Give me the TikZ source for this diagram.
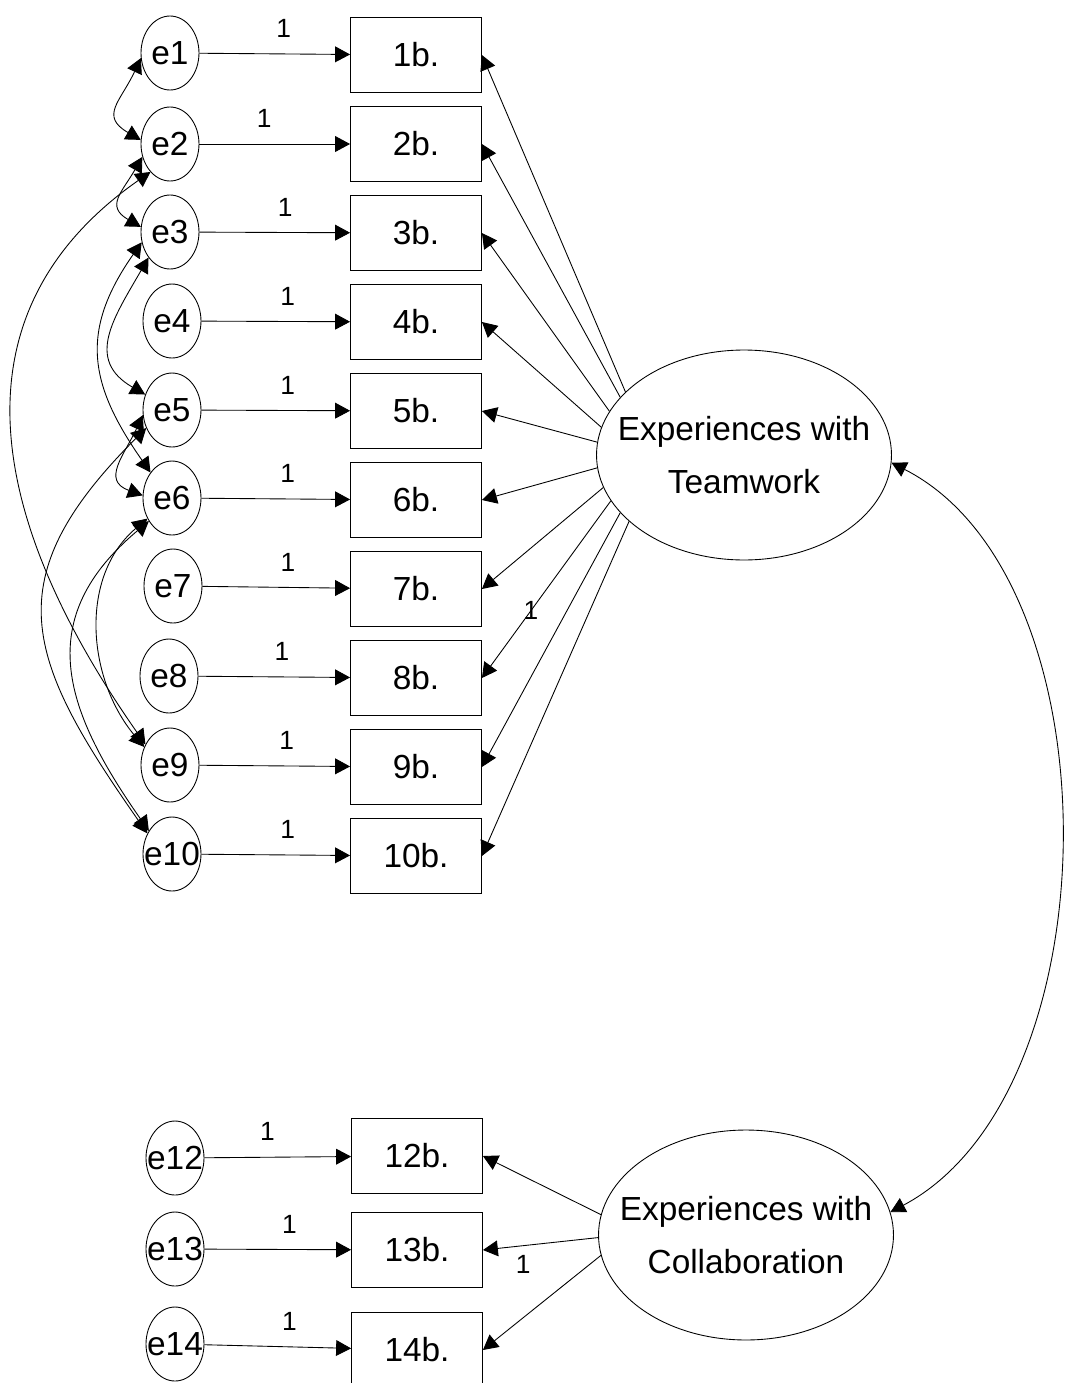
\documentclass[tikz,border=0pt]{standalone}
\usepackage{fontspec}
\setmainfont{Liberation Sans}
\usetikzlibrary{shapes.geometric,arrows.meta}

\tikzset{
  err/.style={ellipse, draw, line width=0.5pt, minimum width=1.16cm, minimum height=1.48cm, inner sep=0pt},
  every label/.style={font=\fontsize{19}{22}\selectfont},
  obs/.style={rectangle, draw, line width=0.5pt, minimum width=2.62cm, minimum height=1.5cm, font=\fontsize{19}{22}\selectfont},
  lat/.style={ellipse, draw, line width=0.5pt, minimum width=5.9cm, minimum height=4.2cm, inner xsep=-14pt, inner ysep=0pt, align=center, font=\fontsize{19}{30}\selectfont},
  reg/.style={-{Triangle[length=8.5pt,width=9pt]}, line width=0.5pt},
  cov/.style={{Triangle[length=8.5pt,width=9pt]}-{Triangle[length=8.5pt,width=9pt]}, line width=0.5pt},
  wt/.style={font=\fontsize{15}{17}\selectfont, inner sep=2pt}
}

\begin{document}
\begin{tikzpicture}[x=0.02cm,y=-0.02cm]
\useasboundingbox (0,0) rectangle (1068,1383);
% error terms
\node[err,label=center:e1] (e1) at (170,53) {};
\node[err,label=center:e2] (e2) at (170,144) {};
\node[err,label=center:e3] (e3) at (170,232) {};
\node[err,label=center:e4] (e4) at (172,321) {};
\node[err,label=center:e5] (e5) at (172,410) {};
\node[err,label=center:e6] (e6) at (172,498) {};
\node[err,label=center:e7] (e7) at (173,586) {};
\node[err,label=center:e8] (e8) at (169,676) {};
\node[err,label=center:e9] (e9) at (170,765) {};
\node[err,label=center:e10] (e10) at (172,854) {};
\node[err,label=center:e12] (e12) at (175,1158) {};
\node[err,label=center:e13] (e13) at (175,1249) {};
\node[err,label=center:e14] (e14) at (175,1344) {};
% items
\node[obs] (b1) at (416,55) {1b.};
\node[obs] (b2) at (416,144) {2b.};
\node[obs] (b3) at (416,233) {3b.};
\node[obs] (b4) at (416,322) {4b.};
\node[obs] (b5) at (416,411) {5b.};
\node[obs] (b6) at (416,500) {6b.};
\node[obs] (b7) at (416,589) {7b.};
\node[obs] (b8) at (416,678) {8b.};
\node[obs] (b9) at (416,767) {9b.};
\node[obs] (b10) at (416,856) {10b.};
\node[obs] (b12) at (417,1156) {12b.};
\node[obs] (b13) at (417,1250) {13b.};
\node[obs] (b14) at (417,1350) {14b.};
% factors
\node[lat] (tw) at (744,455) {Experiences with\\Teamwork};
\node[lat] (co) at (746,1235) {Experiences with\\Collaboration};
% error paths
\draw[reg] (e1) -- node[wt,pos=0.56,above=7pt]{1} (b1);
\draw[reg] (e2) -- node[wt,pos=0.43,above=7pt]{1} (b2);
\draw[reg] (e3) -- node[wt,pos=0.57,above=7pt]{1} (b3);
\draw[reg] (e4) -- node[wt,pos=0.58,above=7pt]{1} (b4);
\draw[reg] (e5) -- node[wt,pos=0.58,above=7pt]{1} (b5);
\draw[reg] (e6) -- node[wt,pos=0.58,above=7pt]{1} (b6);
\draw[reg] (e7) -- node[wt,pos=0.58,above=7pt]{1} (b7);
\draw[reg] (e8) -- node[wt,pos=0.55,above=7pt]{1} (b8);
\draw[reg] (e9) -- node[wt,pos=0.58,above=7pt]{1} (b9);
\draw[reg] (e10) -- node[wt,pos=0.58,above=7pt]{1} (b10);
\draw[reg] (e12) -- node[wt,pos=0.43,above=7pt]{1} (b12);
\draw[reg] (e13) -- node[wt,pos=0.58,above=7pt]{1} (b13);
\draw[reg] (e14) -- node[wt,pos=0.58,above=7pt]{1} (b14);
% loadings
\draw[reg] (tw.152) -- (b1.east);
\draw[reg] (tw.155) -- (b2.east);
\draw[reg] (tw.162) -- (b3.east);
\draw[reg] (tw.169) -- (b4.east);
\draw[reg] (tw.175) -- (b5.east);
\draw[reg] (tw.185) -- (b6.east);
\draw[reg] (tw.193) -- (b7.east);
\draw[reg] (tw.199) -- node[wt,pos=0.62]{1} (b8.east);
\draw[reg] (tw.205) -- (b9.east);
\draw[reg] (tw.210) -- (b10.east);
\draw[reg] (co.172) -- (b12.east);
\draw[reg] (co.181) -- node[wt,pos=0.65,below=3pt]{1} (b13.east);
\draw[reg] (co.188) -- (b14.east);
% covariances
\draw[cov] (e1.190) to[out=245,in=150,looseness=1.5] (e2.172);
\draw[cov] (e2.205) to[out=240,in=150,looseness=1.5] (e3.170);
\draw[cov] (e2.235) to[out=215,in=125,looseness=1.15] (e9.140);
\draw[cov] (e3.200) to[out=235,in=125,looseness=1.2] (e6.130);
\draw[cov] (e3.230) to[out=240,in=150,looseness=1.3] (e5.150);
\draw[cov] (e5.190) to[out=245,in=160,looseness=1.4] (e6.175);
\draw[cov] (e5.215) to[out=225,in=125,looseness=1.35] (e10.140);
\draw[cov] (e6.220) to[out=220,in=130] (e9.145);
\draw[cov] (e6.225) to[out=220,in=125,looseness=1.25] (e10.135);
\draw[cov] (tw.357) to[out=-27,in=28,looseness=0.87] (co.9);
\end{tikzpicture}
\end{document}
